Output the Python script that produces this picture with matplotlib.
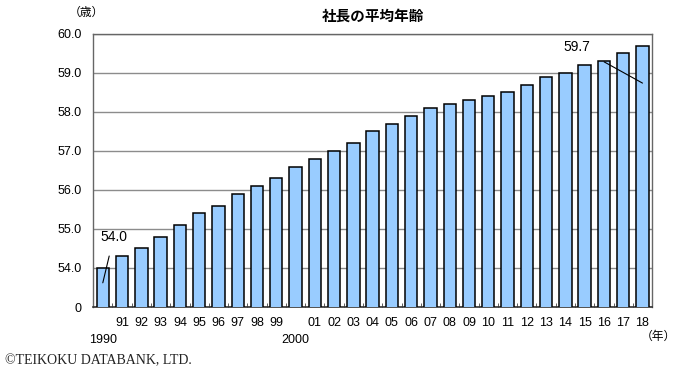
import matplotlib
matplotlib.use('Agg')

import matplotlib.pyplot as plt
import matplotlib.transforms as mtransforms
import numpy as np

plt.rcParams['font.family'] = ['Liberation Sans', 'Noto Sans CJK JP', 'DejaVu Sans']

# data: average age of company presidents (Teikoku Databank)
years = list(range(1990, 2019))
ages = [54.0, 54.3, 54.5, 54.8, 55.1, 55.4, 55.6, 55.9, 56.1, 56.3,
        56.6, 56.8, 57.0, 57.2, 57.5, 57.7, 57.9, 58.1, 58.2, 58.3,
        58.4, 58.5, 58.7, 58.9, 59.0, 59.2, 59.3, 59.5, 59.7]
decades = [1990, 2000]
xlabels = ['' if y in decades else '%02d' % (y % 100) for y in years]
yticks = [53, 54, 55, 56, 57, 58, 59, 60]
ylabels = ['0', '54.0', '55.0', '56.0', '57.0', '58.0', '59.0', '60.0']

bar_c = (153/255., 204/255., 255/255.)
grid_c = '#8c8c8c'

fig = plt.figure(figsize=(6.8, 3.71), dpi=100)
ax = fig.add_axes([0.137, 0.1725, 0.822, 0.736])

x = np.arange(len(years))
ax.bar(x, ages, width=0.64, color=bar_c, edgecolor='black', linewidth=1.1, zorder=3)

ax.set_xlim(-0.5, len(years) - 0.5)
ax.set_ylim(53, 60)
ax.set_yticks(yticks)
ax.set_yticklabels(ylabels, fontsize=9)
ax.set_xticks(x)
ax.set_xticklabels(xlabels, fontsize=9)
ax.set_xticks(np.arange(len(years) + 1) - 0.5, minor=True)
ax.tick_params(axis='x', which='major', length=0, pad=7)
ax.tick_params(axis='x', which='minor', length=3, direction='in', color='#444444')
ax.tick_params(axis='y', length=0, pad=8.5)
ax.yaxis.grid(True, color=grid_c, linewidth=1.0, zorder=0)

# full year under the 1990 and 2000 bars, on a second row
trans = mtransforms.blended_transform_factory(ax.transData, ax.transAxes)
for d in decades:
    ax.text(years.index(d), -0.12, str(d), transform=trans, fontsize=9,
            ha='center', va='center')

for s in ['left', 'top', 'right']:
    ax.spines[s].set_color('#666666')
    ax.spines[s].set_linewidth(1.0)
ax.spines['bottom'].set_color('#333333')
ax.spines['bottom'].set_linewidth(1.2)

# callouts for first and last values
ax.annotate('%.1f' % ages[0], xy=(0, 53.62), xytext=(0.57, 54.8), fontsize=10,
            ha='center', va='center',
            arrowprops=dict(arrowstyle='-', color='black', lw=0.8, shrinkB=0, shrinkA=7))
ax.annotate('%.1f' % ages[-1], xy=(28.0, 58.74), xytext=(24.6, 59.67), fontsize=10,
            ha='center', va='center',
            arrowprops=dict(arrowstyle='-', color='black', lw=0.8, shrinkB=0, shrinkA=9))

fig.text(0.548, 0.954, '社長の平均年齢', fontsize=10.5, fontweight='bold', ha='center', va='center')
fig.text(0.127, 0.965, '（歳）', fontsize=8.5, ha='center', va='center')
fig.text(0.968, 0.092, '（年）', fontsize=8.5, ha='center', va='center')
fig.text(0.008, 0.027, '©TEIKOKU DATABANK, LTD.', fontsize=10, family='Liberation Serif',
         ha='left', va='center', color='#222222')

fig.savefig('out.png', dpi=100)
